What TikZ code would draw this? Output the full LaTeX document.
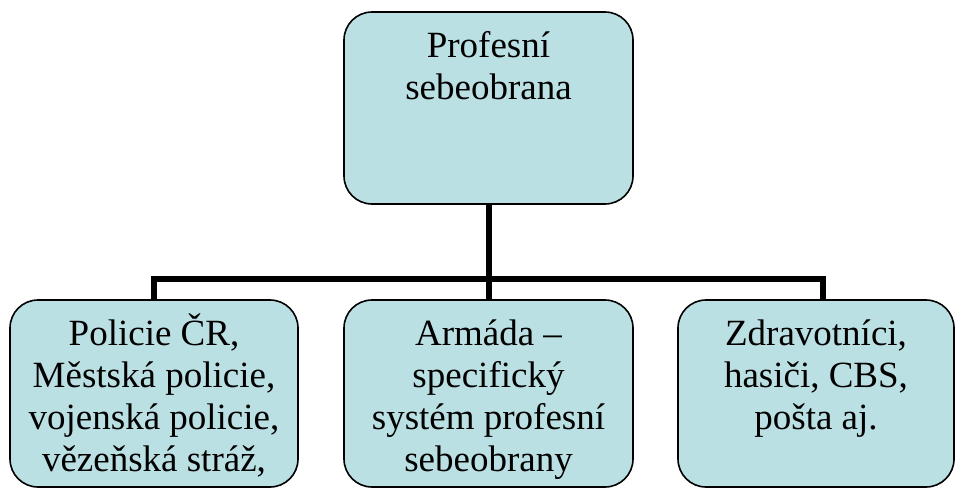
\documentclass[tikz,border=0pt]{standalone}
\usepackage{fontspec}
\setmainfont{Liberation Serif}
\newfontfamily\boxface{Liberation Serif}
\definecolor{boxfill}{RGB}{187,224,227}
\tikzset{
  orgbox/.style={draw=black, line width=1.6pt, fill=boxfill, rounded corners=28pt,
                 inner sep=0pt, outer sep=0pt},
  conn/.style={line width=6pt, draw=black, line join=miter, line cap=butt}
}
% box body: fixed size, text starting from the top, first baseline 45pt down
\newcommand{\boxtext}[3]{\parbox[c][#2pt][t]{#1pt}{\centering\boxface\fontsize{37}{42}\selectfont\rule{0pt}{45pt}#3}}
\begin{document}
\begin{tikzpicture}[x=1pt,y=-1pt]
  \useasboundingbox (0,0) rectangle (955,488);
  \clip (0,0) rectangle (955,488);

  \coordinate (bus) at (0,279);

  \node[orgbox] (top)   at (488.5,108)   {\boxtext{289}{192}{Profesní\\sebeobrana}};
  \node[orgbox] (left)  at (154,393.5)   {\boxtext{288}{187}{Policie ČR,\\Městská policie,\\vojenská policie,\\vězeňská stráž,}};
  \node[orgbox] (mid)   at (488.5,393.5) {\boxtext{289}{187}{Armáda –\\specifický\\systém profesní\\sebeobrany}};
  \node[orgbox] (right) at (816,393.5)   {\boxtext{276}{187}{Zdravotníci,\\hasiči, CBS,\\pošta aj.}};

  \coordinate (rdrop) at ([xshift=7pt]right.north);

  \draw[conn] (top.south) -- (top.south |- bus);
  \draw[conn] (left.north) -- (left.north |- bus) -- (rdrop |- bus) -- (rdrop);
  \draw[conn] (mid.north) -- (mid.north |- bus);
\end{tikzpicture}
\end{document}
